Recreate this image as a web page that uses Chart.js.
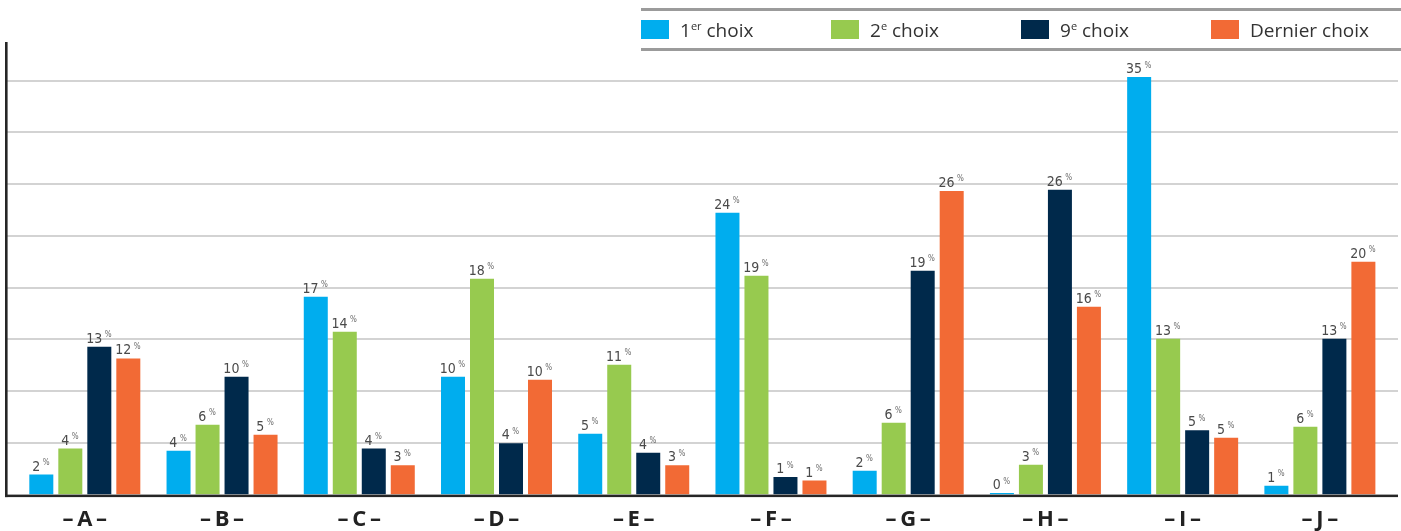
<!DOCTYPE html>
<html>
<head>
<meta charset="utf-8">
<script src="https://cdn.jsdelivr.net/npm/chart.js@4.4.1/dist/chart.umd.min.js"></script>
<style>
html,body{margin:0;padding:0;background:#fff;}
#wrap{position:relative;width:1401px;height:531px;overflow:hidden;}
#c{position:absolute;left:0;top:0;}
#legend{position:absolute;left:641px;top:8px;width:760px;height:37px;border-top:3px solid #9b9b9b;border-bottom:3px solid #9b9b9b;display:flex;font-family:"Open Sans",sans-serif;font-size:19px;color:#333;}
.item{width:192px;display:flex;align-items:center;white-space:nowrap;}
.box{width:28px;height:19px;margin-right:11px;flex:none;}
.item sup{font-size:11px;line-height:0;vertical-align:7px;}
</style>
</head>
<body>
<div id="wrap">
<canvas id="c" width="1401" height="531"></canvas>
<div id="legend"></div>
</div>
<script>
// ---- data ----
const categories = ["A", "B", "C", "D", "E", "F", "G", "H", "I", "J"];
const seriesNames = ["1<sup>er</sup> choix", "2<sup>e</sup> choix", "9<sup>e</sup> choix", "Dernier choix"];
const premierChoix  = [1.70, 3.73, 16.78, 10.00, 5.17, 23.90, 2.03, 0.13, 35.42, 0.76];
const deuxiemeChoix = [3.90, 5.93, 13.81, 18.31, 11.02, 18.56, 6.10, 2.54, 13.22, 5.76];
const neuviemeChoix = [12.54, 10.00, 3.90, 4.35, 3.56, 1.49, 18.98, 25.85, 5.45, 13.22];
const dernierChoix  = [11.55, 5.08, 2.50, 9.75, 2.50, 1.19, 25.76, 15.93, 4.83, 19.75];
const gridValues = [4.39, 8.78, 13.17, 17.56, 21.95, 26.34, 30.73, 35.12];
const Y_MAX = 38.39;

const colors = ["#00adee", "#97ca4f", "#00294b", "#f26a35"];
const seriesData = [premierChoix, deuxiemeChoix, neuviemeChoix, dernierChoix];

// ---- legend (HTML, real text) ----
const legendEl = document.getElementById('legend');
seriesNames.forEach((n, i) => {
  const it = document.createElement('div'); it.className = 'item';
  const b = document.createElement('div'); b.className = 'box'; b.style.background = colors[i];
  const t = document.createElement('span'); t.innerHTML = n;
  it.appendChild(b); it.appendChild(t); legendEl.appendChild(it);
});

const AXIS_X = 5, GRID_RIGHT = 1398;
const labelFont = '"Liberation Sans Narrow", "DejaVu Sans Condensed", "Liberation Sans", sans-serif';

const decor = {
  id: 'decor',
  beforeDatasetsDraw(chart) {
    const {ctx, scales: {y}} = chart;
    ctx.save();
    ctx.strokeStyle = '#d3d3d3';
    ctx.lineWidth = 2;
    gridValues.forEach(v => {
      const py = Math.round(y.getPixelForValue(v));
      ctx.beginPath(); ctx.moveTo(AXIS_X, py); ctx.lineTo(GRID_RIGHT, py); ctx.stroke();
    });
    ctx.restore();
  },
  afterDatasetsDraw(chart) {
    const {ctx, chartArea, scales: {y}} = chart;
    const y0 = y.getPixelForValue(0);
    ctx.save();
    ctx.fillStyle = '#262626';
    ctx.fillRect(AXIS_X, chartArea.top, 2.6, y0 - chartArea.top + 2.5);
    ctx.fillRect(AXIS_X, y0, GRID_RIGHT - AXIS_X, 2.5);
    // value labels
    chart.data.datasets.forEach((ds, di) => {
      const meta = chart.getDatasetMeta(di);
      meta.data.forEach((el, i) => {
        const num = String(Math.round(ds.data[i]));
        ctx.font = '14px ' + labelFont;
        const w1 = ctx.measureText(num).width;
        ctx.font = '8px ' + labelFont;
        const w2 = ctx.measureText('%').width;
        const gap = 2.5;
        const total = w1 + gap + w2;
        const sx = el.x - total / 2 - 0.5;
        const base = el.y - 4;
        ctx.fillStyle = '#4a4a4a';
        ctx.textBaseline = 'alphabetic';
        ctx.textAlign = 'left';
        ctx.font = '14px ' + labelFont;
        ctx.fillText(num, sx, base);
        ctx.font = '8px ' + labelFont;
        ctx.fillStyle = '#6a6a6a';
        ctx.fillText('%', sx + w1 + gap, base - 5.5);
      });
    });
    ctx.restore();
  }
};

new Chart(document.getElementById('c'), {
  type: 'bar',
  data: {
    labels: categories.map(c => '\u2013\u2009' + c + '\u2009\u2013'),
    datasets: seriesData.map((d, i) => ({
      label: seriesNames[i].replace(/<[^>]+>/g, ''),
      data: d,
      backgroundColor: colors[i],
      borderWidth: 0,
      categoryPercentage: 0.8453,
      barPercentage: 0.8276
    }))
  },
  options: {
    responsive: false,
    animation: false,
    layout: {padding: {left: 16.2, right: 12.5, top: 42, bottom: -14}},
    plugins: {legend: {display: false}, tooltip: {enabled: false}},
    scales: {
      y: {display: false, min: 0, max: Y_MAX},
      x: {
        grid: {display: false, drawTicks: false},
        border: {display: false},
        ticks: {
          autoSkip: false, maxRotation: 0, padding: 12,
          color: '#222',
          font: {family: '"Open Sans", sans-serif', size: 22, weight: 'bold'}
        }
      }
    }
  },
  plugins: [decor]
});
</script>
</body>
</html>
